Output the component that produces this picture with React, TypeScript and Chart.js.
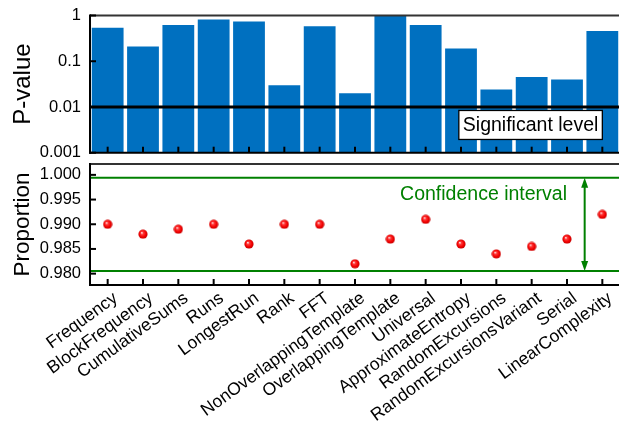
import React, { useEffect, useRef } from "react";
import { Chart, registerables } from "chart.js";

Chart.register(...registerables);

// NIST SP 800-22 statistical test suite results
const tests = [
  "Frequency",
  "BlockFrequency",
  "CumulativeSums",
  "Runs",
  "LongestRun",
  "Rank",
  "FFT",
  "NonOverlappingTemplate",
  "OverlappingTemplate",
  "Universal",
  "ApproximateEntropy",
  "RandomExcursions",
  "RandomExcursionsVariant",
  "Serial",
  "LinearComplexity",
];

const pValues = [0.54, 0.21, 0.62, 0.82, 0.74, 0.03, 0.58, 0.02, 0.97, 0.62, 0.19, 0.024, 0.045, 0.04, 0.46];

const proportions = [0.99, 0.988, 0.989, 0.99, 0.986, 0.99, 0.99, 0.982, 0.987, 0.991, 0.986, 0.984, 0.9855, 0.987, 0.992];

const pTicks = [0.001, 0.01, 0.1, 1];
const pTickLabels = ["0.001", "0.01", "0.1", "1"];
const proportionTicks = [0.98, 0.985, 0.99, 0.995, 1.0];

const significanceLevel = 0.01;
const confidenceLow = 0.98056;
const confidenceHigh = 0.99944;

const FONT = '"Liberation Sans", Arial, Helvetica, sans-serif';
const BAR_BLUE = "#0070c0";
const GREEN = "#008000";

function makeSphere(): HTMLCanvasElement {
  const s = 10;
  const c = document.createElement("canvas");
  c.width = s;
  c.height = s;
  const g = c.getContext("2d")!;
  const grad = g.createRadialGradient(3.8, 3.5, 0.2, 5, 5, 5);
  grad.addColorStop(0, "#fff0f0");
  grad.addColorStop(0.25, "#ff3a3a");
  grad.addColorStop(0.65, "#f40000");
  grad.addColorStop(1, "#b80000");
  g.fillStyle = grad;
  g.beginPath();
  g.arc(5, 5, 4.6, 0, Math.PI * 2);
  g.fill();
  return c;
}

function seg(ctx: CanvasRenderingContext2D, x1: number, y1: number, x2: number, y2: number) {
  ctx.beginPath();
  ctx.moveTo(x1, y1);
  ctx.lineTo(x2, y2);
  ctx.stroke();
}

// keep the plot area exactly where the layout padding puts it
function fixedWidth(scale: any) {
  scale.width = 90;
  scale.paddingTop = 0;
  scale.paddingBottom = 0;
}

// axis frame with inward tick marks
function framePlugin(id: string, yTickValues: number[]) {
  return {
    id,
    afterDatasetsDraw(chart: any) {
      const { ctx, chartArea: a, scales } = chart;
      const xs = scales.x;
      const ys = scales.y;
      ctx.save();
      ctx.strokeStyle = "#333";
      ctx.lineWidth = 2;
      seg(ctx, a.left, a.top, a.right + 20, a.top);
      ctx.strokeStyle = "#000";
      ctx.lineWidth = 2;
      tests.forEach((_, i) => {
        const px = xs.getPixelForValue(i);
        seg(ctx, px, a.bottom, px, a.bottom - 6);
      });
      yTickValues.forEach((v) => {
        const py = ys.getPixelForValue(v);
        seg(ctx, a.left, py, a.left + 6, py);
      });
      seg(ctx, a.left, a.top - 1, a.left, a.bottom + 1);
      seg(ctx, a.left - 1, a.bottom, a.right + 20, a.bottom);
      ctx.restore();
    },
  };
}

const significancePlugin = {
  id: "significance",
  afterDatasetsDraw(chart: any) {
    const { ctx, chartArea: a, scales } = chart;
    const ly = scales.y.getPixelForValue(significanceLevel);
    ctx.save();
    ctx.strokeStyle = "#000";
    ctx.lineWidth = 3;
    seg(ctx, a.left, ly, a.right + 20, ly);
    const label = "Significant level";
    ctx.font = `19.5px ${FONT}`;
    const tw = ctx.measureText(label).width;
    const right = scales.x.getPixelForValue(tests.length - 1);
    const w = tw + 8;
    const h = 29;
    const top = ly + 3.5;
    ctx.fillStyle = "#fff";
    ctx.fillRect(right - w, top, w, h);
    ctx.lineWidth = 1.3;
    ctx.strokeRect(right - w, top, w, h);
    ctx.fillStyle = "#000";
    ctx.textAlign = "center";
    ctx.textBaseline = "middle";
    ctx.fillText(label, right - w / 2, top + h / 2 + 1);
    ctx.restore();
  },
};

const confidencePlugin = {
  id: "confidence",
  beforeDatasetsDraw(chart: any) {
    const { ctx, chartArea: a, scales } = chart;
    const yHi = scales.y.getPixelForValue(confidenceHigh);
    const yLo = scales.y.getPixelForValue(confidenceLow);
    ctx.save();
    ctx.strokeStyle = GREEN;
    ctx.fillStyle = GREEN;
    ctx.lineWidth = 2;
    seg(ctx, a.left, yHi, a.right + 20, yHi);
    seg(ctx, a.left, yLo, a.right + 20, yLo);

    // double-headed arrow spanning the interval
    const ax = (scales.x.getPixelForValue(13) + scales.x.getPixelForValue(14)) / 2;
    const head = 10;
    const half = 3.5;
    seg(ctx, ax, yHi + head - 1, ax, yLo - head + 1);
    ctx.beginPath();
    ctx.moveTo(ax, yHi);
    ctx.lineTo(ax - half, yHi + head);
    ctx.lineTo(ax + half, yHi + head);
    ctx.closePath();
    ctx.fill();
    ctx.beginPath();
    ctx.moveTo(ax, yLo);
    ctx.lineTo(ax - half, yLo - head);
    ctx.lineTo(ax + half, yLo - head);
    ctx.closePath();
    ctx.fill();

    ctx.font = `19.5px ${FONT}`;
    ctx.textAlign = "right";
    ctx.textBaseline = "middle";
    ctx.fillText("Confidence interval", scales.x.getPixelForValue(13), scales.y.getPixelForValue(0.996));
    ctx.restore();
  },
};

function PValueChart() {
  const ref = useRef<HTMLCanvasElement>(null);
  useEffect(() => {
    const chart = new Chart(ref.current!, {
      type: "bar",
      data: {
        labels: tests,
        datasets: [
          {
            data: pValues,
            backgroundColor: BAR_BLUE,
            borderWidth: 0,
            barPercentage: 0.9,
            categoryPercentage: 1,
          },
        ],
      },
      options: {
        responsive: false,
        animation: false,
        layout: { padding: { top: 15.5, right: 20, bottom: 7.3, left: 0 } },
        plugins: { legend: { display: false }, tooltip: { enabled: false } },
        scales: {
          x: { type: "category", offset: true, display: false },
          y: {
            type: "logarithmic",
            min: 0.001,
            max: 1,
            afterBuildTicks: (scale: any) => {
              scale.ticks = pTicks.map((v) => ({ value: v }));
            },
            afterFit: fixedWidth,
            grid: { display: false, drawTicks: false },
            border: { display: false },
            ticks: {
              padding: 9,
              color: "#000",
              font: { family: FONT, size: 16.5 },
              callback: (v: any) => {
                const i = pTicks.findIndex((t) => Math.abs(t - Number(v)) < 1e-9);
                return i >= 0 ? pTickLabels[i] : "";
              },
            },
            title: {
              display: true,
              text: "P-value",
              color: "#000",
              font: { family: FONT, size: 24 },
              padding: { top: 9, bottom: 0 },
            },
          },
        },
      },
      plugins: [framePlugin("pframe", pTicks), significancePlugin],
    });
    return () => chart.destroy();
  }, []);
  return (
    <canvas
      ref={ref}
      width={640}
      height={160}
      style={{ position: "absolute", left: 0, top: 0, width: 640, height: 160 }}
    />
  );
}

function ProportionChart() {
  const ref = useRef<HTMLCanvasElement>(null);
  useEffect(() => {
    const sphere = makeSphere();
    const chart = new Chart(ref.current!, {
      type: "line",
      data: {
        labels: tests,
        datasets: [
          {
            data: proportions,
            showLine: false,
            pointStyle: sphere,
            pointRadius: 5,
          },
        ],
      },
      options: {
        responsive: false,
        animation: false,
        layout: { padding: { top: 9, right: 20, bottom: 0, left: 0 } },
        plugins: { legend: { display: false }, tooltip: { enabled: false } },
        scales: {
          x: {
            type: "category",
            offset: true,
            grid: { display: false, drawTicks: false },
            border: { display: false },
            afterFit: (scale: any) => {
              scale.height = 141;
              scale.paddingLeft = 0;
              scale.paddingRight = 0;
            },
            ticks: {
              autoSkip: false,
              maxRotation: 36,
              minRotation: 36,
              padding: 3,
              labelOffset: 8,
              color: "#000",
              font: { family: FONT, size: 17.5 },
            },
          },
          y: {
            type: "linear",
            min: 0.9777,
            max: 1.0022,
            afterBuildTicks: (scale: any) => {
              scale.ticks = proportionTicks.map((v) => ({ value: v }));
            },
            afterFit: fixedWidth,
            grid: { display: false, drawTicks: false },
            border: { display: false },
            ticks: {
              padding: 9,
              color: "#000",
              font: { family: FONT, size: 16.5 },
              callback: (v: any) => Number(v).toFixed(3),
            },
            title: {
              display: true,
              text: "Proportion",
              color: "#000",
              font: { family: FONT, size: 22.5 },
              padding: { top: 9, bottom: 0 },
            },
          },
        },
      },
      plugins: [confidencePlugin, framePlugin("qframe", proportionTicks)],
    });
    return () => chart.destroy();
  }, []);
  return (
    <canvas
      ref={ref}
      width={640}
      height={271}
      style={{ position: "absolute", left: 0, top: 155, width: 640, height: 271 }}
    />
  );
}

export default function App() {
  return (
    <div
      style={{
        position: "fixed",
        left: 0,
        top: 0,
        width: 619,
        height: 426,
        overflow: "hidden",
        background: "#fff",
      }}
    >
      <PValueChart />
      <ProportionChart />
    </div>
  );
}
